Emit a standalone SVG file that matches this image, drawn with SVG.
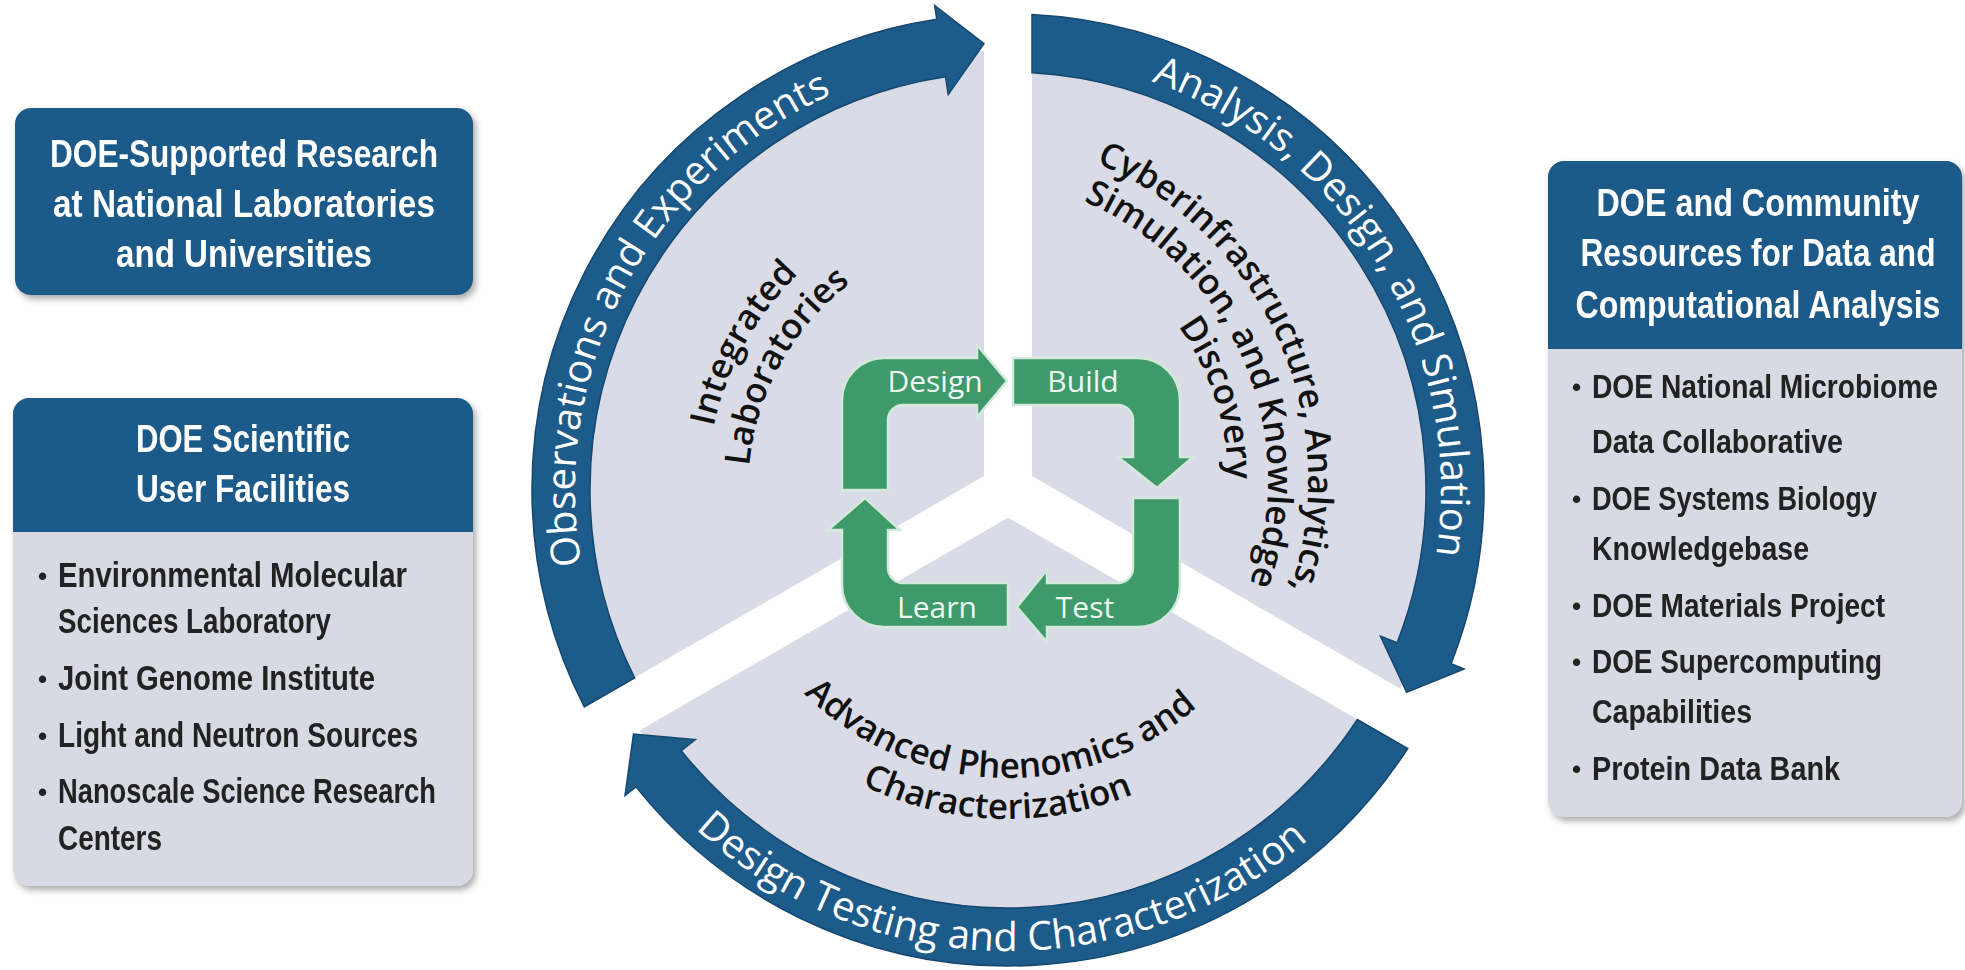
<svg xmlns="http://www.w3.org/2000/svg" xmlns:xlink="http://www.w3.org/1999/xlink" width="1965" height="970" viewBox="0 0 1965 970">
<defs>
<style>
.hdr{fill:#1c5a89}
.body{fill:#d7dae3}
.htxt{font-family:"Liberation Sans",Arial,sans-serif;font-weight:bold;fill:#ffffff;text-anchor:middle}
.btxt{font-family:"Liberation Sans",Arial,sans-serif;font-weight:bold;fill:#222222}
.bul{font-family:"Liberation Sans",Arial,sans-serif;font-weight:bold;fill:#222222;font-size:26px}
.sector{fill:#d9dce6}
.band{fill:#1d5b8b;stroke:#16486f;stroke-width:1.5}
.atxt{font-family:"Open Sans","Noto Sans",sans-serif;fill:#ffffff;font-size:40px;text-anchor:middle}
.itxt{font-family:"Open Sans","Noto Sans",sans-serif;font-weight:600;fill:#111111;font-size:35px;text-anchor:middle}
.green{fill:#3e9a6a;stroke:#d2e9dc;stroke-width:2.5}
.gtxt{font-family:"Open Sans","Noto Sans",sans-serif;fill:#eef8f2;font-size:30px;text-anchor:middle}
</style>
<filter id="sh" x="-10%" y="-10%" width="125%" height="125%">
<feDropShadow dx="3" dy="4" stdDeviation="3" flood-color="#444" flood-opacity="0.45"/>
</filter>
<path id="tp1" d="M 615.6 673 A 433 433 0 0 1 940.3 62.3"/>
<path id="tp2" d="M 1053.3 59.4 A 433 433 0 0 1 1409.5 652.2"/>
<path id="tp3" d="M 625.8 747.8 A 461 461 0 0 0 1380.9 761.0"/>
<path id="ip1" d="M 712.5 547.4 A 301 301 0 0 1 900.1 209"/>
<path id="ip2" d="M 752.8 539.6 A 260 260 0 0 1 914.8 247.3"/>
<path id="ip3" d="M 879.1 147.9 A 343 343 0 0 1 1159.3 762.7"/>
<path id="ip4" d="M 894.3 185.4 A 303 303 0 0 1 1132.2 732.7"/>
<path id="ip5" d="M 928.4 219.6 A 263 263 0 0 1 1088.5 712.2"/>
<path id="ip6" d="M 734.1 579 A 288 288 0 0 0 1275 597.9"/>
<path id="ip7" d="M 695.1 591.7 A 329 329 0 0 0 1313 613.2"/>
</defs>
<rect width="1965" height="970" fill="#ffffff"/>

<g id="box-research" filter="url(#sh)">
<rect class="hdr" x="15" y="108" width="458" height="187" rx="16"/>
<text class="htxt" font-size="39" x="244" y="167" textLength="388" lengthAdjust="spacingAndGlyphs">DOE-Supported Research</text>
<text class="htxt" font-size="39" x="244" y="217" textLength="382" lengthAdjust="spacingAndGlyphs">at National Laboratories</text>
<text class="htxt" font-size="39" x="244" y="267" textLength="256" lengthAdjust="spacingAndGlyphs">and Universities</text>
</g>

<g id="box-facilities" filter="url(#sh)">
<rect class="body" x="13" y="398" width="460" height="488" rx="16"/>
<path class="hdr" d="M13 414 A16 16 0 0 1 29 398 L457 398 A16 16 0 0 1 473 414 L473 532 L13 532 Z"/>
<text class="htxt" font-size="39" x="243" y="452" textLength="214" lengthAdjust="spacingAndGlyphs">DOE Scientific</text>
<text class="htxt" font-size="39" x="243" y="502" textLength="214" lengthAdjust="spacingAndGlyphs">User Facilities</text>
<g font-size="35">
<text class="bul" x="38" y="585">•</text>
<text class="btxt" x="58" y="587" textLength="349" lengthAdjust="spacingAndGlyphs">Environmental Molecular</text>
<text class="btxt" x="58" y="633" textLength="273" lengthAdjust="spacingAndGlyphs">Sciences Laboratory</text>
<text class="bul" x="38" y="688">•</text>
<text class="btxt" x="58" y="690" textLength="317" lengthAdjust="spacingAndGlyphs">Joint Genome Institute</text>
<text class="bul" x="38" y="745">•</text>
<text class="btxt" x="58" y="747" textLength="360" lengthAdjust="spacingAndGlyphs">Light and Neutron Sources</text>
<text class="bul" x="38" y="801">•</text>
<text class="btxt" x="58" y="803" textLength="378" lengthAdjust="spacingAndGlyphs">Nanoscale Science Research</text>
<text class="btxt" x="58" y="850" textLength="104" lengthAdjust="spacingAndGlyphs">Centers</text>
</g>
</g>

<g id="box-resources" filter="url(#sh)">
<rect class="body" x="1548" y="161" width="414" height="656" rx="16"/>
<path class="hdr" d="M1548 177 A16 16 0 0 1 1564 161 L1946 161 A16 16 0 0 1 1962 177 L1962 349 L1548 349 Z"/>
<text class="htxt" font-size="38" x="1758" y="216" textLength="323" lengthAdjust="spacingAndGlyphs">DOE and Community</text>
<text class="htxt" font-size="38" x="1758" y="266" textLength="355" lengthAdjust="spacingAndGlyphs">Resources for Data and</text>
<text class="htxt" font-size="38" x="1758" y="318" textLength="365" lengthAdjust="spacingAndGlyphs">Computational Analysis</text>
<g font-size="34">
<text class="bul" x="1572" y="396">•</text>
<text class="btxt" x="1592" y="398" textLength="346" lengthAdjust="spacingAndGlyphs">DOE National Microbiome</text>
<text class="btxt" x="1592" y="453" textLength="251" lengthAdjust="spacingAndGlyphs">Data Collaborative</text>
<text class="bul" x="1572" y="508">•</text>
<text class="btxt" x="1592" y="510" textLength="285" lengthAdjust="spacingAndGlyphs">DOE Systems Biology</text>
<text class="btxt" x="1592" y="560" textLength="217" lengthAdjust="spacingAndGlyphs">Knowledgebase</text>
<text class="bul" x="1572" y="615">•</text>
<text class="btxt" x="1592" y="617" textLength="293" lengthAdjust="spacingAndGlyphs">DOE Materials Project</text>
<text class="bul" x="1572" y="671">•</text>
<text class="btxt" x="1592" y="673" textLength="290" lengthAdjust="spacingAndGlyphs">DOE Supercomputing</text>
<text class="btxt" x="1592" y="723" textLength="160" lengthAdjust="spacingAndGlyphs">Capabilities</text>
<text class="bul" x="1572" y="778">•</text>
<text class="btxt" x="1592" y="780" textLength="248" lengthAdjust="spacingAndGlyphs">Protein Data Bank</text>
</g>
</g>

<g id="sector-labs">
<path class="sector" d="M 984 476.1 L 984 50.7 A 440 440 0 0 0 615.5 688.8 Z"/>
<text class="itxt"><textPath xlink:href="#ip1" href="#ip1" startOffset="50%">Integrated</textPath></text>
<text class="itxt"><textPath xlink:href="#ip2" href="#ip2" startOffset="50%">Laboratories</textPath></text>
</g>
<g id="sector-cyber">
<path class="sector" d="M 1032 476.1 L 1032 50.7 A 440 440 0 0 1 1400.5 688.8 Z"/>
<text class="itxt" font-size="32"><textPath xlink:href="#ip3" href="#ip3" startOffset="50%">Cyberinfrastructure, Analytics,</textPath></text>
<text class="itxt" font-size="32"><textPath xlink:href="#ip4" href="#ip4" startOffset="50%">Simulation, and Knowledge</textPath></text>
<text class="itxt" font-size="32"><textPath xlink:href="#ip5" href="#ip5" startOffset="50%">Discovery</textPath></text>
</g>
<g id="sector-phenomics">
<path class="sector" d="M 1008 517.7 L 1376.5 730.5 A 440 440 0 0 1 639.5 730.5 Z"/>
<text class="itxt"><textPath xlink:href="#ip6" href="#ip6" startOffset="50%">Advanced Phenomics and</textPath></text>
<text class="itxt"><textPath xlink:href="#ip7" href="#ip7" startOffset="50%">Characterization</textPath></text>
</g>

<g id="connectors">
<g id="arrow-observations">
<path class="band" d="M 584.3 706.9 A 476 476 0 0 1 936.8 19.3 L 934.7 5.5 L 984 43.6 L 948.2 94.5 L 945.5 76.7 A 418 418 0 0 0 634.6 677.9 Z"/>
<text class="atxt"><textPath xlink:href="#tp1" href="#tp1" startOffset="50%">Observations and Experiments</textPath></text>
</g>
<g id="arrow-analysis">
<path class="band" d="M 1032 14.6 A 476 476 0 0 1 1451.1 663.8 L 1464.1 669 L 1406.6 692.4 L 1380.4 636.1 L 1397.1 642.7 A 418 418 0 0 0 1032 72.7 Z"/>
<text class="atxt"><textPath xlink:href="#tp2" href="#tp2" startOffset="50%">Analysis, Design, and Simulation</textPath></text>
</g>
<g id="arrow-testing">
<path class="band" d="M 1407.7 748.5 A 476 476 0 0 1 636 786.9 L 625 795.6 L 633.5 734 L 695.4 739.5 L 681.3 750.7 A 418 418 0 0 0 1357.4 719.5 Z"/>
<text class="atxt" font-size="45"><textPath xlink:href="#tp3" href="#tp3" startOffset="50%">Design Testing and Characterization</textPath></text>
</g>
</g>

<g id="dbtl-cycle">
<g id="step-design">
<path class="green" d="M 842 490 L 842 400 A 42 42 0 0 1 884 358 L 977 358 L 977 345 L 1007 381 L 977 417 L 977 405 L 903 405 A 15 15 0 0 0 888 420 L 888 490 Z"/>
<text class="gtxt" x="935" y="392">Design</text>
</g>
<g id="step-build">
<path class="green" d="M 1013 358 L 1138 358 A 42 42 0 0 1 1180 400 L 1180 457 L 1193 457 L 1157 488 L 1118 457 L 1133 457 L 1133 420 A 15 15 0 0 0 1118 405 L 1013 405 Z"/>
<text class="gtxt" x="1083" y="392">Build</text>
</g>
<g id="step-test">
<path class="green" d="M 1180 498 L 1180 585 A 42 42 0 0 1 1138 627 L 1047 627 L 1047 642 L 1017 607 L 1047 570 L 1047 583 L 1118 583 A 15 15 0 0 0 1133 568 L 1133 498 Z"/>
<text class="gtxt" x="1085" y="618">Test</text>
</g>
<g id="step-learn">
<path class="green" d="M 1008 583 L 1008 627 L 884 627 A 42 42 0 0 1 842 585 L 842 530 L 828 530 L 865 498 L 900 530 L 888 530 L 888 568 A 15 15 0 0 0 903 583 Z"/>
<text class="gtxt" x="937" y="618">Learn</text>
</g>
</g>
</svg>
